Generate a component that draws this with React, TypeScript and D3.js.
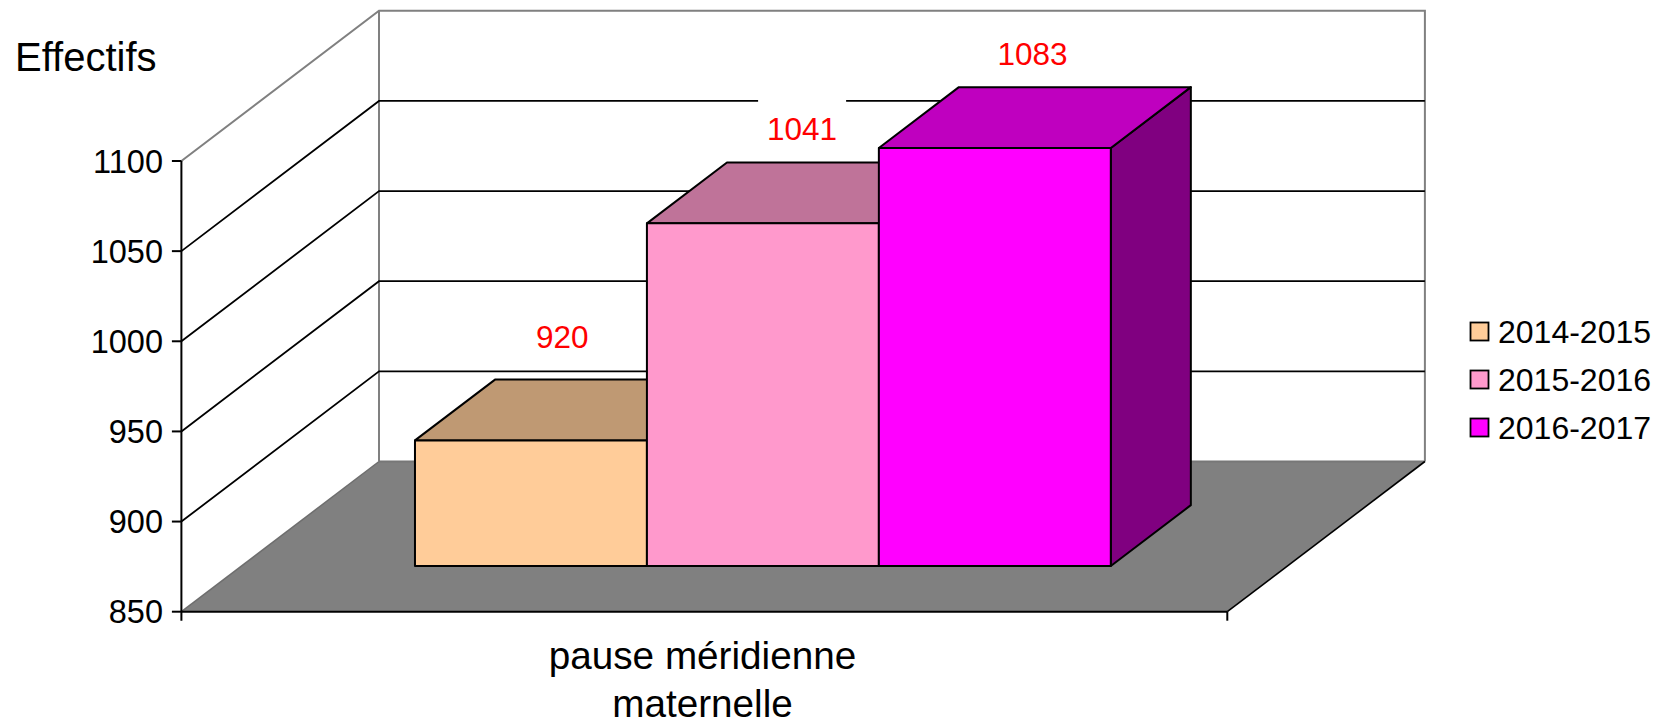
import React from "react";
import * as d3 from "d3";

const seriesNames = ["2014-2015", "2015-2016", "2016-2017"];
const seriesValues = [920, 1041, 1083];
const frontColors = ["#FFCC99", "#FF99CC", "#FF00FF"];
const topColors = ["#BF9973", "#BF7399", "#BF00BF"];
const sideColors = ["#806650", "#804D66", "#800080"];
const yTicks = [850, 900, 950, 1000, 1050, 1100];
const categoryLines = ["pause méridienne", "maternelle"];
const axisTitle = "Effectifs";

const W = 1659;
const H = 721;
const FONT = "'Liberation Sans', Arial, sans-serif";

// front plane of the 3D box
const y = d3.scaleLinear().domain([850, 1100]).range([611.7, 161]);
// vertical scale in the plane of the bars' front faces
const barY = d3.scaleLinear().domain([850, 1083]).range([566, 148]);
const xFront = d3.scaleLinear().domain([0, 1]).range([181.4, 1227.3]);
// depth projection: 0 = front of floor, 1 = back wall
const depthX = d3.scaleLinear().domain([0, 1]).range([0, 197.6]);
const depthY = d3.scaleLinear().domain([0, 1]).range([0, -150.2]);
const project = (u: number, v: number, d: number): [number, number] => [
  xFront(u) + depthX(d),
  y(v) + depthY(d),
];
const barBand = d3
  .scaleBand<string>()
  .domain(seriesNames)
  .range([0.1657, 0.831])
  .paddingInner(0)
  .paddingOuter(0);

const D_FRONT = 0.305;
const D_BACK = 0.71;
const BAR_RISE = depthY(D_BACK) - depthY(D_FRONT);
const barPoint = (u: number, v: number, back: boolean): [number, number] => [
  xFront(u) + depthX(back ? D_BACK : D_FRONT),
  barY(v) + (back ? BAR_RISE : 0),
];

// label placement relative to the middle of the bar's top edge at the back
const labelLift = [31.7, 23, 21.8];
const labelShift = [-8.6, -0.8, -2.4];

const line = d3.line<[number, number]>();
const poly = (pts: [number, number][]) => line(pts) + "Z";

export default function App() {
  const wallTop = yTicks[yTicks.length - 1];
  const base = yTicks[0];
  const labelPos = seriesValues.map((v, i) => {
    const um = barBand(seriesNames[i])! + barBand.bandwidth() / 2;
    return {
      x: xFront(um) + depthX((D_FRONT + D_BACK) / 2) + labelShift[i],
      y: barPoint(um, v, true)[1] - labelLift[i],
    };
  });
  return (
    <svg
      width={W}
      height={H}
      viewBox={`0 0 ${W} ${H}`}
      style={{ position: "absolute", left: 0, top: 0, display: "block", background: "#fff" }}
      fontFamily={FONT}
    >
      {/* floor */}
      <path
        d={poly([project(0, base, 0), project(0, base, 1), project(1, base, 1), project(1, base, 0)])}
        fill="#808080"
        stroke="none"
      />
      {/* walls outline */}
      <path
        d={line([project(0, wallTop, 0), project(0, wallTop, 1), project(1, wallTop, 1), project(1, base, 1)])!}
        fill="none"
        stroke="#808080"
        strokeWidth={2}
      />
      <path d={line([project(0, wallTop, 1), project(0, base, 1)])!} stroke="#808080" strokeWidth={2} fill="none" />
      <path d={line([project(0, base, 1), project(1, base, 1)])!} stroke="#777" strokeWidth={2} fill="none" />
      <path d={line([project(0, base, 0), project(0, base, 1)])!} stroke="#6e6e6e" strokeWidth={1.5} fill="none" />

      {/* gridlines */}
      {yTicks.slice(1, -1).map((t) => (
        <path
          key={t}
          d={line([project(0, t, 0), project(0, t, 1), project(1, t, 1)])!}
          fill="none"
          stroke="#000"
          strokeWidth={1.8}
        />
      ))}

      {/* opaque label backgrounds */}
      {labelPos.map((p, i) => (
        <rect key={i} x={p.x - 44} y={p.y - 41} width={88} height={60} fill="#fff" />
      ))}

      {/* axes */}
      <path d={line([project(0, base, 0), project(1, base, 0)])!} stroke="#000" strokeWidth={2} fill="none" />
      <path
        d={line([project(1, base, 0), project(1, base, 1)])!}
        stroke="#000"
        strokeWidth={1.6}
        fill="none"
      />
      <path
        d={line([[xFront(0), y(wallTop)], [xFront(0), y(base) + 9]])!}
        stroke="#000"
        strokeWidth={2}
        fill="none"
      />
      <path
        d={line([[xFront(1), y(base)], [xFront(1), y(base) + 9]])!}
        stroke="#000"
        strokeWidth={2}
        fill="none"
      />
      {yTicks.map((t) => (
        <g key={t}>
          <path d={line([[xFront(0) - 9.5, y(t)], [xFront(0), y(t)]])!} stroke="#000" strokeWidth={2} fill="none" />
          <text x={163} y={y(t) + 11.7} textAnchor="end" fontSize={32.5} fill="#000">
            {t}
          </text>
        </g>
      ))}

      {/* bars */}
      {seriesValues.map((v, i) => {
        const u0 = barBand(seriesNames[i])!;
        const u1 = u0 + barBand.bandwidth();
        const a = barPoint(u0, v, false);
        const b = barPoint(u1, v, false);
        const c = barPoint(u1, 850, false);
        const d = barPoint(u0, 850, false);
        const e = barPoint(u0, v, true);
        const f = barPoint(u1, v, true);
        const g = barPoint(u1, 850, true);
        return (
          <g key={i} stroke="#000" strokeWidth={2} strokeLinejoin="round">
            <path d={poly([b, f, g, c])} fill={sideColors[i]} />
            <path d={poly([a, e, f, b])} fill={topColors[i]} />
            <path d={poly([a, b, c, d])} fill={frontColors[i]} />
          </g>
        );
      })}

      {/* value labels */}
      {seriesValues.map((v, i) => (
        <text key={i} x={labelPos[i].x} y={labelPos[i].y} textAnchor="middle" fontSize={31.5} fill="#FF0000">
          {v}
        </text>
      ))}

      {/* titles */}
      <text x={15} y={71} fontSize={40} fill="#000">
        {axisTitle}
      </text>
      {categoryLines.map((s, i) => (
        <text key={s} x={702.5} y={669 + i * 48} textAnchor="middle" fontSize={38.7} fill="#000">
          {s}
        </text>
      ))}

      {/* legend */}
      {seriesNames.map((s, i) => (
        <g key={s}>
          <rect
            x={1470.5}
            y={322.5 + i * 48}
            width={18}
            height={18}
            fill={frontColors[i]}
            stroke="#000"
            strokeWidth={1.8}
          />
          <text x={1498} y={342.8 + i * 48} fontSize={32} fill="#000">
            {s}
          </text>
        </g>
      ))}
    </svg>
  );
}
